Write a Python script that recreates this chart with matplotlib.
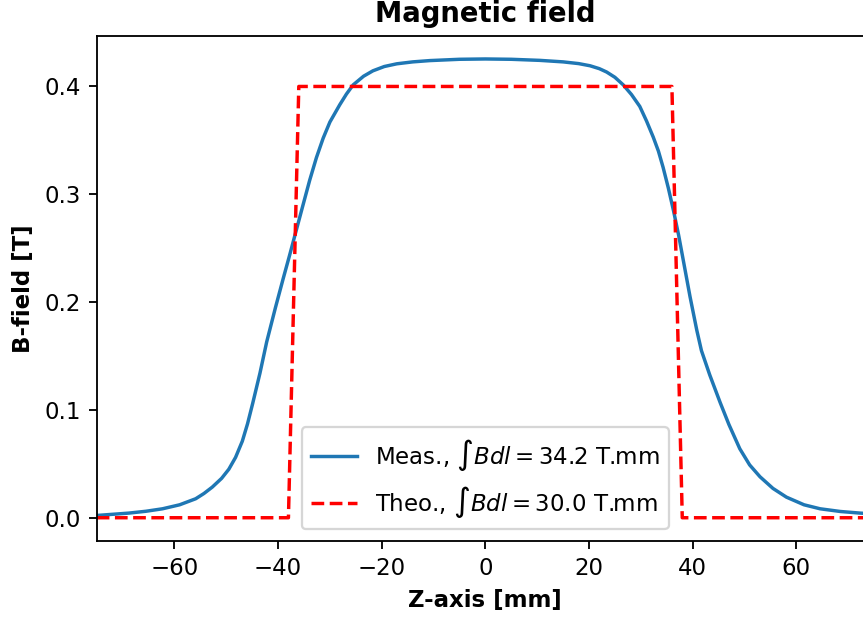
import matplotlib
matplotlib.use("Agg")
import matplotlib.pyplot as plt

z_meas = [-75.0, -68.8, -65.5, -62.3, -59.0, -55.9, -54.3, -52.7, -50.9, -49.5,
          -48.2, -46.9, -45.9, -44.9, -43.5, -42.2, -40.5, -39.0, -37.8, -36.8,
          -35.3, -33.9, -32.6, -31.3, -30.0, -28.1, -26.8, -25.5, -23.5, -21.7,
          -19.5, -17.1, -14.0, -10.7, -5.0, 0.0, 5.0, 10.5, 15.0, 18.0,
          20.2, 22.0, 23.4, 25.0, 26.6, 28.2, 29.8, 31.1, 32.4, 33.4,
          34.3, 35.3, 36.3, 37.3, 38.2, 39.5, 40.8, 41.7, 43.3, 45.3,
          47.0, 49.1, 51.0, 53.0, 55.5, 58.1, 61.5, 64.6, 68.5, 72.3,
          75.0]
b_meas = [0.0021, 0.0043, 0.0060, 0.0083, 0.0120, 0.0176, 0.0225, 0.0284, 0.0365, 0.0450,
          0.0560, 0.0710, 0.0870, 0.1060, 0.1340, 0.1630, 0.1950, 0.2220, 0.2430, 0.2610,
          0.2880, 0.3130, 0.3340, 0.3520, 0.3670, 0.3830, 0.3930, 0.4015, 0.4095, 0.4145,
          0.4185, 0.4210, 0.4228, 0.4240, 0.4252, 0.4255, 0.4252, 0.4242, 0.4228, 0.4212,
          0.4192, 0.4165, 0.4134, 0.4085, 0.4015, 0.3925, 0.3815, 0.3680, 0.3530, 0.3400,
          0.3250, 0.3060, 0.2850, 0.2620, 0.2387, 0.2050, 0.1740, 0.1550, 0.1325, 0.1070,
          0.0865, 0.0640, 0.0490, 0.0380, 0.0272, 0.0191, 0.0120, 0.0083, 0.0058, 0.0043,
          0.0035]

# Theoretical (hard-edge) profile
z_theo = [-75.0, -38.0, -36.0, 36.0, 38.0, 75.0]
b_theo = [0.0, 0.0, 0.4, 0.4, 0.0, 0.0]

label_meas = r'Meas., $\int Bdl = 34.2$ T.mm'
label_theo = r'Theo., $\int Bdl = 30.0$ T.mm'

DPI = 165
fig = plt.figure(figsize=(863 / DPI, 621 / DPI), dpi=DPI)
ax = fig.add_axes([96.7 / 863, (621 - 540.7) / 621, (874 - 96.7) / 863, (540.7 - 36) / 621])

ax.plot(z_meas, b_meas, color='#1f77b4', lw=1.5, label=label_meas)
ax.plot(z_theo, b_theo, color='red', ls='--', lw=1.5, label=label_theo)

ax.set_xlim(-75, 75)
ax.set_ylim(-0.0213, 0.4468)
ax.set_xticks([-60, -40, -20, 0, 20, 40, 60])
ax.set_yticks([0.0, 0.1, 0.2, 0.3, 0.4])

ax.set_title('Magnetic field', fontsize=12, fontweight='bold')
ax.set_xlabel('Z-axis [mm]', fontsize=10, fontweight='bold')
ax.set_ylabel('B-field [T]', fontsize=10, fontweight='bold')
ax.legend(loc='lower center', fontsize=10)

fig.savefig('out.png', dpi=DPI)
